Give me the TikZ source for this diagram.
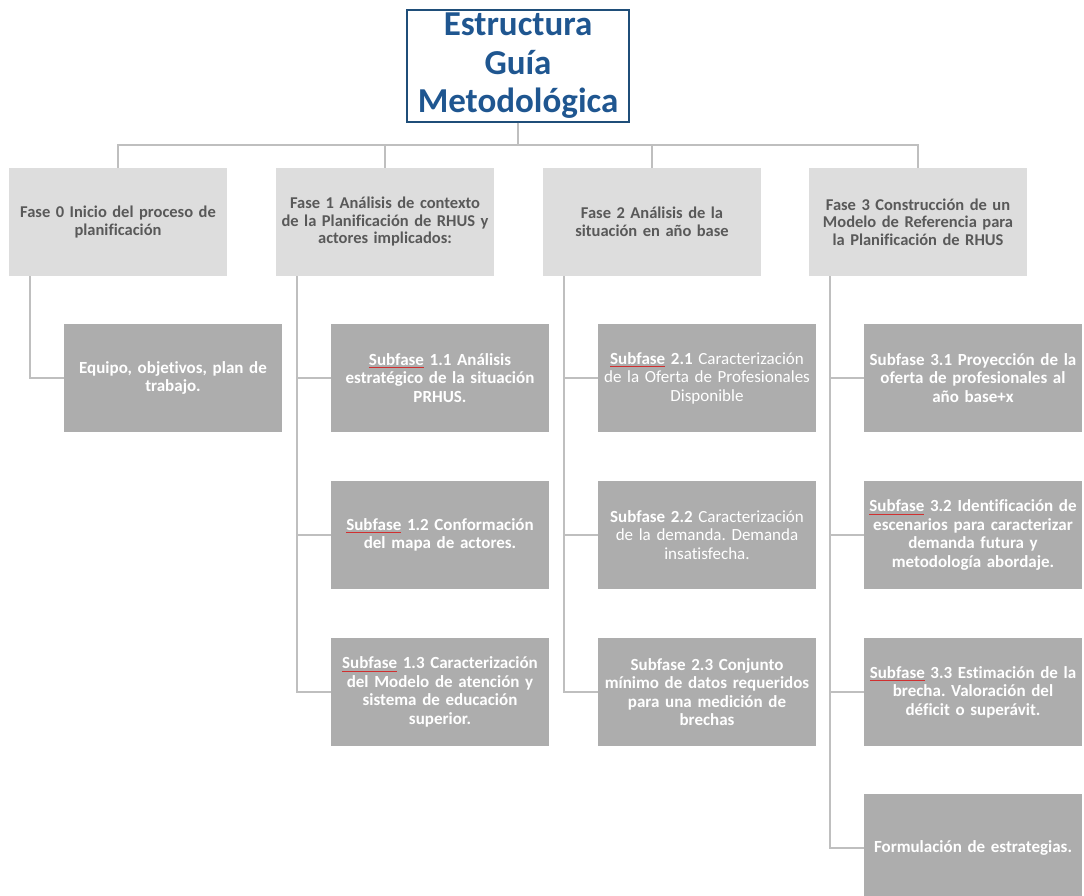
\documentclass[tikz,border=0pt]{standalone}
\usepackage{fontspec}
\setmainfont{Carlito}[Ligatures=NoCommon]
\usepackage{tikz}
\usepackage{xcolor}
\frenchspacing

\definecolor{titleblue}{HTML}{1F4E79}
\definecolor{titletext}{HTML}{1F5690}
\definecolor{phasegray}{HTML}{DDDDDD}
\definecolor{phasetext}{HTML}{595959}
\definecolor{subgray}{HTML}{ADADAD}
\definecolor{linkgray}{HTML}{BFBFBF}
\definecolor{spellred}{HTML}{D03030}

% red spell-check mark under a word
\newcommand{\spellmark}[1]{\setbox0\hbox{#1}\rlap{\color{spellred}\rule[-2.4pt]{\wd0}{0.6pt}}\box0\relax}

\begin{document}
\begin{tikzpicture}[x=1pt, y=-1pt,
    title/.style={draw=titleblue, line width=1.6pt, minimum width=222pt, minimum height=112pt, inner sep=0pt, align=center, text=titletext, font=\fontsize{35}{38.5}\selectfont\bfseries},
    phase/.style={fill=phasegray, text width=216pt, inner sep=1pt, minimum height=108pt, align=center, text=phasetext, font=\fontsize{16.5}{17.5}\selectfont\bfseries},
    sub/.style={fill=subgray, text width=216pt, inner sep=1pt, minimum height=108pt, align=center, text=white, font=\fontsize{17}{18.5}\selectfont\bfseries},
    link/.style={draw=linkgray, line width=2.6pt}
]
\clip (0,0) rectangle (1084,895);

\node[title] (guide) at (518,66) {Estructura\\Guía\\Metodológica};

% phases
\node[phase] (f0) at (118,222) {Fase 0 Inicio del proceso de\\planificación};
\node[phase] (f1) at (385,222) {Fase 1 Análisis de contexto\\de la Planificación de RHUS y\\actores implicados:};
\node[phase] (f2) at (652,222) {Fase 2 Análisis de la\\situación en año base};
\node[phase] (f3) at (918,222) {Fase 3 Construcción de un\\Modelo de Referencia para\\la Planificación de RHUS};

% sub-phases
\node[sub] (s01) at (173,378) {Equipo, objetivos, plan de\\trabajo.};
\node[sub] (s11) at (440,378) {\spellmark{Subfase} 1.1 Análisis\\estratégico de la situación\\PRHUS.};
\node[sub] (s12) at (440,535) {\spellmark{Subfase} 1.2 Conformación\\del mapa de actores.};
\node[sub] (s13) at (440,692) {\spellmark{Subfase} 1.3 Caracterización\\del Modelo de atención y\\sistema de educación\\superior.};
\node[sub] (s21) at (707,378) {\spellmark{Subfase} 2.1 \mdseries Caracterización\\de la Oferta de Profesionales\\Disponible};
\node[sub] (s22) at (707,535) {Subfase 2.2 \mdseries Caracterización\\de la demanda. Demanda\\insatisfecha.};
\node[sub] (s23) at (707,692) {Subfase 2.3 Conjunto\\mínimo de datos requeridos\\para una medición de\\brechas};
\node[sub] (s31) at (973,378) {Subfase 3.1 Proyección de la\\oferta de profesionales al\\año base+x};
\node[sub] (s32) at (973,535) {\spellmark{Subfase} 3.2 Identificación de\\escenarios para caracterizar\\demanda futura y\\metodología abordaje.};
\node[sub] (s33) at (973,692) {\spellmark{Subfase} 3.3 Estimación de la\\brecha. Valoración del\\déficit o superávit.};
\node[sub] (s34) at (973,848) {Formulación de estrategias.};

% connectors
\foreach \f in {f0,f1,f2,f3}
  \draw[link] (guide.south) -- ++(0,22) -| (\f.north);
\draw[link] ([xshift=21pt]f0.south west) |- (s01.west);
\foreach \s in {s11,s12,s13}
  \draw[link] ([xshift=21pt]f1.south west) |- (\s.west);
\foreach \s in {s21,s22,s23}
  \draw[link] ([xshift=21pt]f2.south west) |- (\s.west);
\foreach \s in {s31,s32,s33,s34}
  \draw[link] ([xshift=21pt]f3.south west) |- (\s.west);
\end{tikzpicture}
\end{document}
